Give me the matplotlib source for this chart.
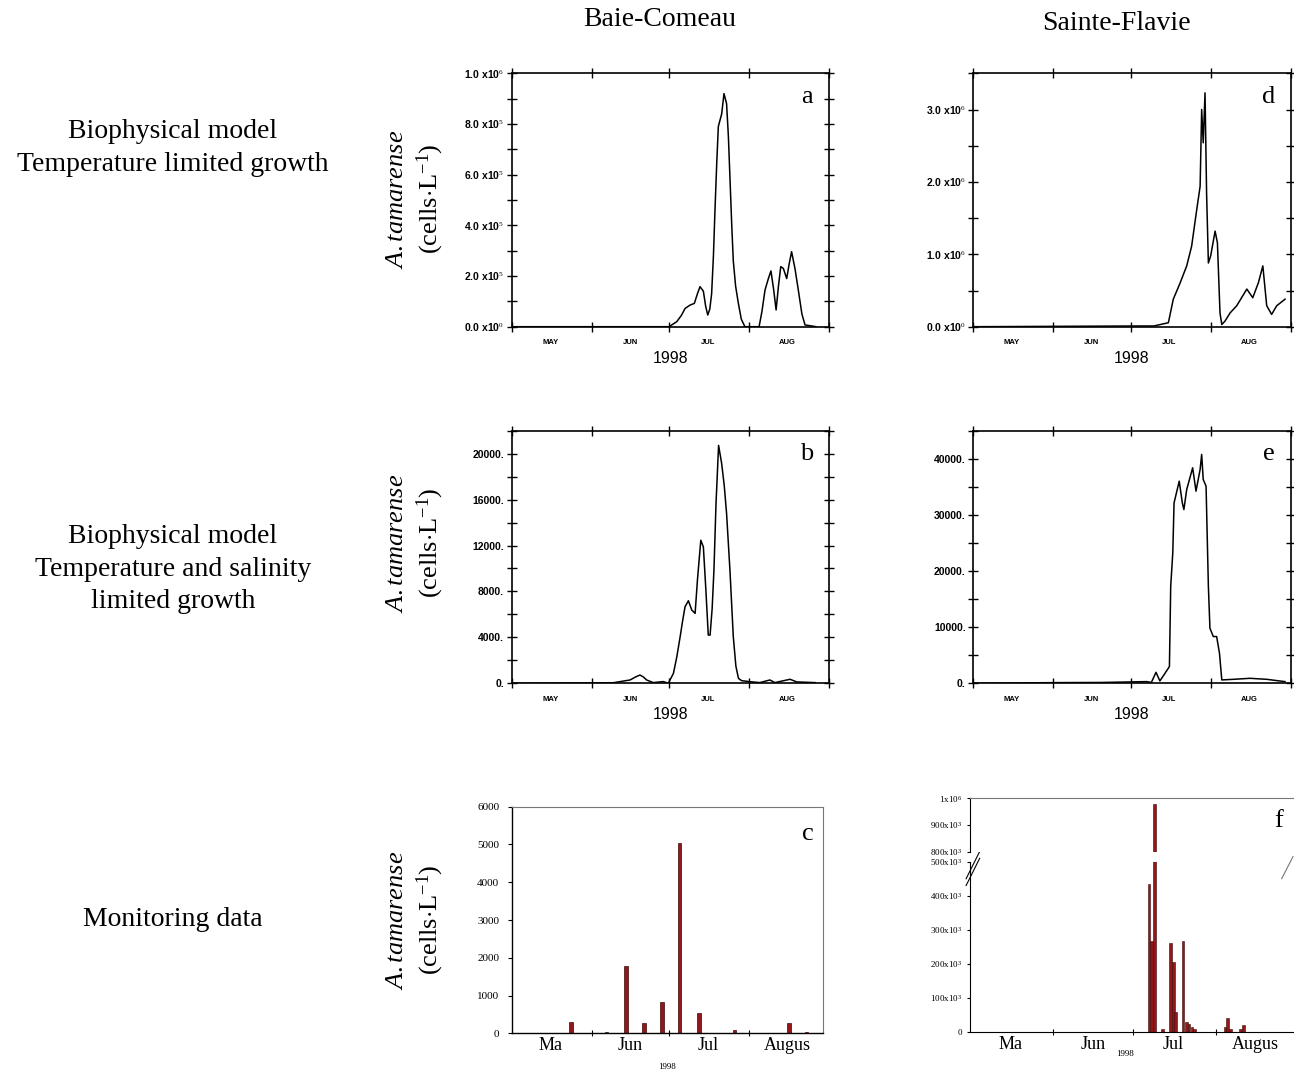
import matplotlib
matplotlib.use("Agg")
import matplotlib.pyplot as plt
from matplotlib.ticker import FixedLocator, MultipleLocator, FuncFormatter

# ---------------- data (days since 1 May 1998) ----------------
month_bounds = [0, 31, 61, 92, 123]
month_mid = [15, 46, 76, 107]
month_labels_model = ["MAY", "JUN", "JUL", "AUG"]
month_labels_obs = ["Ma", "Jun", "Jul", "Augus"]

# a: Baie-Comeau, temperature limited (cells/L)
a_day = [0, 61, 62.5, 64, 65.8, 67.2, 69.1, 70.8, 72, 73, 74.3, 75.2, 76, 76.8, 77.5, 78.2,
         78.8, 79.5, 80.1, 81.4, 82.3, 83.3, 84.0, 84.6, 85.3, 85.9, 86.8, 87.9, 89.0,
         90.4, 95.9, 97.0, 98.2, 99.5, 100.5, 101.5, 102.5, 103.4, 104.3, 105.3, 106.6,
         107.6, 108.5, 109.8, 111.1, 112.5, 113.7, 118]
a_val = [0, 0, 0.01e6, 0.02e6, 0.045e6, 0.072e6, 0.085e6, 0.092e6, 0.13e6, 0.158e6, 0.14e6,
         0.08e6, 0.046e6, 0.07e6, 0.13e6, 0.28e6, 0.46e6, 0.65e6, 0.79e6, 0.84e6, 0.92e6,
         0.88e6, 0.75e6, 0.59e6, 0.40e6, 0.26e6, 0.16e6, 0.09e6, 0.03e6, 0, 0, 0.06e6,
         0.145e6, 0.19e6, 0.22e6, 0.15e6, 0.066e6, 0.16e6, 0.237e6, 0.23e6, 0.19e6,
         0.25e6, 0.296e6, 0.23e6, 0.145e6, 0.05e6, 0.007e6, 0]

# d: Sainte-Flavie, temperature limited
d_day = [0, 64.6, 70, 75.6, 77.5, 80.1, 82.7, 84.6, 86.6, 87.9, 88.5, 89.1, 89.8, 90.4,
         91.1, 92, 93.7, 94.6, 95.6, 96.3, 97.6, 99.5, 102.1, 106, 108.3, 110.5, 112.2,
         113.7, 115.6, 117.6, 120.8]
d_val = [0, 0.01e6, 0.01e6, 0.055e6, 0.38e6, 0.6e6, 0.84e6, 1.11e6, 1.62e6, 1.94e6, 3.0e6,
         2.54e6, 3.23e6, 1.85e6, 0.88e6, 0.98e6, 1.32e6, 1.16e6, 0.19e6, 0.03e6, 0.08e6,
         0.19e6, 0.29e6, 0.52e6, 0.4e6, 0.61e6, 0.84e6, 0.29e6, 0.17e6, 0.29e6, 0.38e6]

# b: Baie-Comeau, temperature and salinity limited
b_day = [0, 39.4, 45.9, 48, 49.7, 51, 52.3, 54.9, 58.8, 60.7, 62.7, 64, 65.3, 66.3, 67.2,
         68.5, 69.8, 71.1, 72, 73.3, 74.3, 75.2, 76.2, 76.9, 77.7, 78.4, 79.2, 80.2, 81.4,
         82.4, 83.3, 84.6, 85.9, 86.9, 87.9, 89.1, 92.4, 96.2, 100.1, 102, 107.9, 110.5,
         117.6]
b_val = [0, 50, 290, 550, 720, 560, 290, 60, 150, 0, 870, 2300, 4060, 5500, 6670, 7190,
         6380, 6090, 8990, 12460, 11880, 8410, 4200, 4200, 6500, 9860, 15650, 20720, 19130,
         17200, 14780, 9860, 4060, 1500, 430, 230, 140, 60, 290, 60, 350, 120, 60]

# e: Sainte-Flavie, temperature and salinity limited
e_day = [0, 31.7, 50, 67.2, 69, 70.8, 72.3, 74.3, 76, 76.5, 77.3, 77.8, 79.8, 81.0, 81.6,
         82.7, 85, 86.3, 87.9, 88.5, 89.1, 90.2, 91.1, 91.7, 93, 94.3, 95.4, 96.3, 100.8,
         107.2, 113.7, 117.6, 120.8]
e_val = [0, 120, 150, 300, 150, 1960, 420, 1790, 2980, 17260, 23210, 32140, 36010, 32140,
         30950, 34520, 38390, 34230, 38100, 40770, 36310, 35120, 17260, 9820, 8330, 8330,
         5360, 600, 710, 890, 710, 480, 300]

# c: monitoring data, Baie-Comeau
c_day = [22.9, 36.8, 44.2, 51.3, 58.3, 65.0, 72.6, 86.3, 107.5, 114.3]
c_val = [300, 40, 1790, 280, 840, 5030, 530, 90, 280, 40]

# f: monitoring data, Sainte-Flavie
f_day = [67.1, 68.1, 69.2, 72.0, 75.0, 76.2, 77.0, 79.8, 81.0, 82.0, 83.2, 84.2, 95.7,
         96.5, 97.5, 101.3, 102.5]
f_val = [433e3, 266e3, 979e3, 7e3, 261e3, 204e3, 59e3, 266e3, 28e3, 22e3, 15e3, 7e3,
         15e3, 41e3, 8e3, 8e3, 19e3]

row_titles = ["Biophysical model\nTemperature limited growth",
              "Biophysical model\nTemperature and salinity\nlimited growth",
              "Monitoring data"]
col_titles = ["Baie-Comeau", "Sainte-Flavie"]
ylabel = "$\\mathit{A.tamarense}$\n(cells$\\cdot$L$^{-1}$)"

# ---------------- figure ----------------
W, H = 1294, 1070
fig = plt.figure(figsize=(W / 100, H / 100), dpi=100)
SERIF = "Liberation Serif"
SANS = "Liberation Sans"
plt.rcParams["mathtext.fontset"] = "custom"
plt.rcParams["mathtext.rm"] = SERIF
plt.rcParams["mathtext.it"] = SERIF + ":italic"
plt.rcParams["mathtext.bf"] = SANS + ":bold"


def box(x0, y0, x1, y1):
    return [x0 / W, 1 - y1 / H, (x1 - x0) / W, (y1 - y0) / H]


def model_axes(rect, days, vals, ymax, major, minor, fmt, letter):
    ax = fig.add_axes(rect)
    ax.plot(days, vals, color="black", lw=1.1)
    ax.set_xlim(0, 123)
    ax.set_ylim(0, ymax)
    ax.xaxis.set_major_locator(FixedLocator(month_bounds))
    ax.xaxis.set_major_formatter(FuncFormatter(lambda v, p: ""))
    ax.set_xticks(month_mid, minor=True)
    ax.set_xticklabels(month_labels_model, minor=True, fontsize=5.5, fontweight="bold",
                       family=SANS)
    ax.tick_params(axis="x", which="minor", length=0, pad=9)
    ax.tick_params(axis="x", which="major", direction="inout", length=7, width=1,
                   top=True)
    ax.yaxis.set_major_locator(MultipleLocator(major))
    ax.yaxis.set_minor_locator(MultipleLocator(minor))
    ax.yaxis.set_major_formatter(FuncFormatter(fmt))
    ax.tick_params(axis="y", which="both", direction="inout", length=7, width=1,
                   right=True, labelsize=7.5, pad=2)
    for lab in ax.get_yticklabels():
        lab.set_fontweight("bold")
        lab.set_family(SANS)
    for s in ax.spines.values():
        s.set_linewidth(1.2)
    ax.text(0.5, -0.095, "1998", transform=ax.transAxes, ha="center", va="top",
            fontsize=11.5, family=SANS)
    ax.text(0.93, 0.95, letter, transform=ax.transAxes, ha="center", va="top",
            fontsize=19, family=SERIF)
    return ax


def plain_fmt(v, pos):
    return "%d." % v


def fmt_a(v, pos):
    if v == 0:
        return "0.0 x10$^{0}$"
    if abs(v - 1e6) < 1:
        return "1.0 x10$^{6}$"
    return "%.1f x10$^{5}$" % (v / 1e5)


def fmt_d(v, pos):
    if v == 0:
        return "0.0 x10$^{0}$"
    return "%.1f x10$^{6}$" % (v / 1e6)


# row 1
model_axes(box(511.7, 73.3, 829, 326.7), a_day, a_val, 1.0e6, 2e5, 1e5, fmt_a, "a")
model_axes(box(973.3, 73.3, 1290.7, 326.7), d_day, d_val, 3.5e6, 1e6, 5e5, fmt_d, "d")
# row 2
model_axes(box(511.7, 430.7, 829, 683.3), b_day, b_val, 22000, 4000, 2000, plain_fmt, "b")
model_axes(box(973.3, 430.7, 1290.7, 683.3), e_day, e_val, 45000, 10000, 5000,
           plain_fmt, "e")

BAR = "#931619"

# panel c
axc = fig.add_axes(box(511.7, 806.7, 823.3, 1033.3))
axc.bar(c_day, c_val, width=1.4, color=BAR, edgecolor="#3a0a0a", linewidth=0.5)
axc.set_xlim(0, 120.8)
axc.set_ylim(0, 6000)
axc.yaxis.set_major_locator(MultipleLocator(1000))
axc.set_xticks(month_bounds[1:4])
axc.set_xticklabels([""] * 3)
axc.set_xticks(month_mid, minor=True)
axc.set_xticklabels(month_labels_obs, minor=True, fontsize=13, family=SERIF)
axc.tick_params(axis="x", which="minor", length=0, pad=3)
axc.tick_params(axis="x", which="major", direction="inout", length=4, width=0.8)
axc.tick_params(axis="y", direction="out", length=3, width=0.8, labelsize=8, pad=6)
for lab in axc.get_yticklabels():
    lab.set_family(SERIF)
for k in ["top", "right"]:
    axc.spines[k].set_color("#777777")
    axc.spines[k].set_linewidth(0.8)
for k in ["left", "bottom"]:
    axc.spines[k].set_linewidth(1.0)
axc.text(0.5, -0.13, "1998", transform=axc.transAxes, ha="center", va="top",
         fontsize=6.5, family=SERIF)
axc.text(0.95, 0.93, "c", transform=axc.transAxes, ha="center", va="top", fontsize=19,
         family=SERIF)

# panel f (broken axis)
axf_lo = fig.add_axes(box(970, 861.7, 1293, 1031.7))
axf_hi = fig.add_axes(box(970, 798.3, 1293, 851.7))
for ax in (axf_lo, axf_hi):
    ax.bar(f_day, f_val, width=1.0, color=BAR, edgecolor="#3a0a0a", linewidth=0.4)
    ax.set_xlim(0, 121)
    ax.spines["right"].set_visible(False)
axf_lo.set_ylim(0, 500e3)
axf_hi.set_ylim(800e3, 1.0e6)
axf_lo.set_yticks([0, 100e3, 200e3, 300e3, 400e3, 500e3])
axf_lo.set_yticklabels(["0", "100x10$^{3}$", "200x10$^{3}$", "300x10$^{3}$",
                        "400x10$^{3}$", "500x10$^{3}$"], family=SERIF)
axf_hi.set_yticks([800e3, 900e3, 1.0e6])
axf_hi.set_yticklabels(["800x10$^{3}$", "900x10$^{3}$", "1x10$^{6}$"], family=SERIF)
axf_lo.tick_params(axis="y", direction="out", length=2, width=0.8, labelsize=6.5, pad=4)
axf_hi.tick_params(axis="y", direction="out", length=2, width=0.8, labelsize=6.5, pad=4)
axf_lo.spines["top"].set_visible(False)
axf_hi.spines["bottom"].set_visible(False)
axf_hi.spines["top"].set_color("#777777")
axf_hi.spines["top"].set_linewidth(0.8)
axf_hi.set_xticks([])
axf_lo.set_xticks(month_bounds[1:4])
axf_lo.set_xticklabels([""] * 3)
axf_lo.set_xticks(month_mid, minor=True)
axf_lo.set_xticklabels(month_labels_obs, minor=True, fontsize=13, family=SERIF)
axf_lo.tick_params(axis="x", which="minor", length=0, pad=3)
axf_lo.tick_params(axis="x", which="major", direction="inout", length=4, width=0.8)
axf_lo.text(0.48, -0.11, "1998", transform=axf_lo.transAxes, ha="center", va="top",
            fontsize=6.5, family=SERIF)
axf_hi.text(0.955, 0.78, "f", transform=axf_hi.transAxes, ha="center", va="top",
            fontsize=19, family=SERIF)
# break marks
kw = dict(color="black", lw=0.8, clip_on=False)
for dy in (0.0, 0.04):
    axf_lo.plot([-0.012, 0.03], [0.86 + dy, 1.02 + dy], transform=axf_lo.transAxes, **kw)
axf_lo.plot([0.965, 1.0], [0.9, 1.03], transform=axf_lo.transAxes, color="#777777",
            lw=0.8, clip_on=False)

# row / column titles
for txt, y in zip(row_titles, [148, 569, 920]):
    fig.text(173 / W, 1 - y / H, txt, ha="center", va="center", fontsize=20,
             family=SERIF, linespacing=1.4)
fig.text(660 / W, 1 - 20 / H, col_titles[0], ha="center", va="center", fontsize=20,
         family=SERIF)
fig.text(1116 / W, 1 - 24 / H, col_titles[1], ha="center", va="center", fontsize=20,
         family=SERIF)
for y in [199, 543, 920]:
    fig.text(416 / W, 1 - y / H, ylabel, ha="center", va="center", rotation=90,
             fontsize=19, family=SERIF, linespacing=1.25)

fig.savefig("out.png", dpi=100)
